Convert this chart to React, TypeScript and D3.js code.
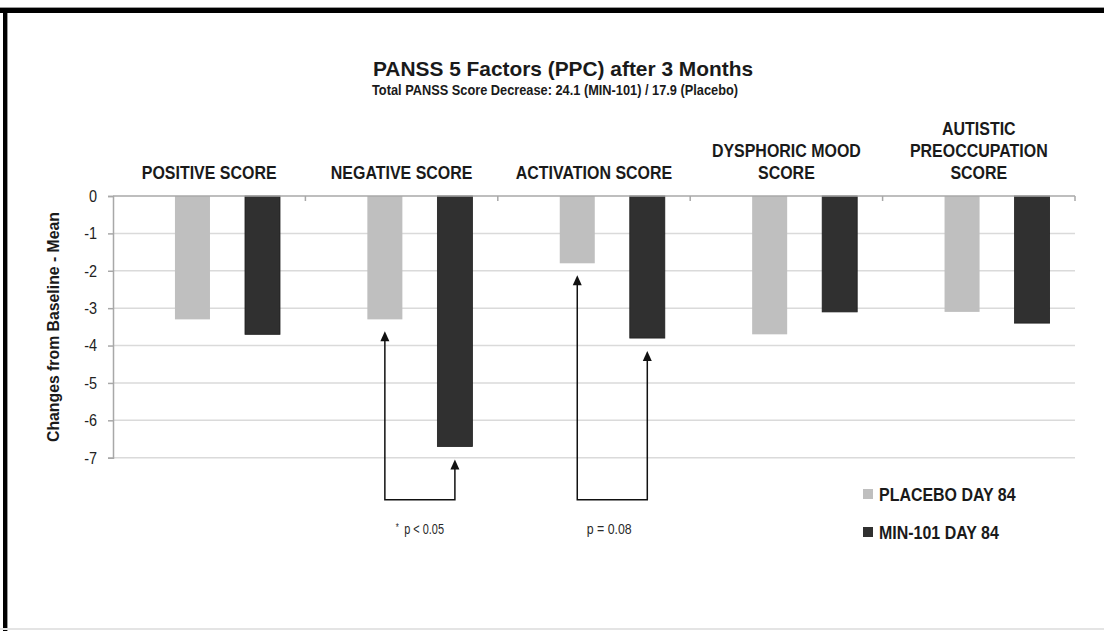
import React, { useEffect, useRef } from "react";
import * as d3 from "d3";

// values
const categories = [
  "POSITIVE SCORE",
  "NEGATIVE SCORE",
  "ACTIVATION SCORE",
  "DYSPHORIC MOOD SCORE",
  "AUTISTIC PREOCCUPATION SCORE",
];
const categoryLines = [
  ["POSITIVE SCORE"],
  ["NEGATIVE SCORE"],
  ["ACTIVATION SCORE"],
  ["DYSPHORIC MOOD", "SCORE"],
  ["AUTISTIC", "PREOCCUPATION", "SCORE"],
];
const seriesNames = ["PLACEBO DAY 84", "MIN-101 DAY 84"];
const placebo = [-3.3, -3.3, -1.8, -3.7, -3.1];
const min101 = [-3.7, -6.7, -3.8, -3.1, -3.4];
const yTicks = [0, -1, -2, -3, -4, -5, -6, -7];
const comparisons = [
  { category: "NEGATIVE SCORE", star: "*", label: "p < 0.05" },
  { category: "ACTIVATION SCORE", star: "", label: "p = 0.08" },
];

const W = 1104;
const H = 631;
const SANS = "'Liberation Sans', Arial, sans-serif";
const colors = ["#bfbfbf", "#303030"];

// no narrow font is installed, so squeeze the glyphs horizontally
function condense(sel, k) {
  sel.each(function () {
    const w = this.getComputedTextLength();
    d3.select(this).attr("textLength", w * k).attr("lengthAdjust", "spacingAndGlyphs");
  });
}

function draw(el) {
  const svg = d3.select(el);
  svg.selectAll("*").remove();

  const marginLeft = 113;
  const plotRight = 1075;
  const y = d3.scaleLinear().domain([0, -7]).range([196, 457.7]);
  const x0 = d3.scaleBand().domain(categories).range([marginLeft, plotRight]).padding(0);
  const bw = x0.bandwidth();
  const x1 = d3
    .scaleBand()
    .domain(seriesNames)
    .range([bw * 0.322, bw * 0.868])
    .paddingInner(0.5)
    .paddingOuter(0);

  // frame
  svg.append("rect").attr("width", W).attr("height", H).attr("fill", "#fff");
  svg.append("rect").attr("x", 0).attr("y", 7).attr("width", W).attr("height", 1).attr("fill", "#9a9a9a");
  svg.append("rect").attr("x", 0).attr("y", 8).attr("width", W).attr("height", 5).attr("fill", "#000");
  svg.append("rect").attr("x", 3).attr("y", 8).attr("width", 4).attr("height", H - 8).attr("fill", "#000");
  svg.append("rect").attr("x", 7).attr("y", 13).attr("width", 1).attr("height", H - 13).attr("fill", "#9a9a9a");
  svg.append("rect").attr("x", 0).attr("y", 628).attr("width", W).attr("height", 2).attr("fill", "#e4e4e4");

  // titles
  svg
    .append("text")
    .attr("x", 563)
    .attr("y", 76)
    .attr("text-anchor", "middle")
    .attr("font-family", SANS)
    .attr("font-weight", 700)
    .attr("font-size", 21)
    .attr("fill", "#1a1a1a")
    .attr("textLength", 380)
    .attr("lengthAdjust", "spacingAndGlyphs")
    .text("PANSS 5 Factors (PPC) after 3 Months");
  svg
    .append("text")
    .attr("x", 555)
    .attr("y", 95)
    .attr("text-anchor", "middle")
    .attr("font-family", SANS)
    .attr("font-weight", 700)
    .attr("font-size", 15.5)
    .attr("fill", "#1a1a1a")
    .attr("textLength", 366)
    .attr("lengthAdjust", "spacingAndGlyphs")
    .text("Total PANSS Score Decrease: 24.1 (MIN-101) / 17.9 (Placebo)");

  // gridlines
  svg
    .append("g")
    .selectAll("line")
    .data(yTicks.filter((d) => d !== 0))
    .join("line")
    .attr("x1", marginLeft)
    .attr("x2", plotRight)
    .attr("y1", (d) => y(d))
    .attr("y2", (d) => y(d))
    .attr("stroke", "#dadada")
    .attr("stroke-width", 1.5);

  // y axis
  svg
    .append("g")
    .attr("transform", `translate(${marginLeft},0)`)
    .call(d3.axisLeft(y).tickValues(yTicks).tickSize(5).tickFormat((d) => String(d)))
    .call((g) => g.select(".domain").attr("stroke", "#a8a8a8").attr("stroke-width", 1.5))
    .call((g) => g.selectAll(".tick line").attr("stroke", "#a8a8a8").attr("stroke-width", 1.5))
    .call((g) =>
      g
        .selectAll(".tick text")
        .attr("x", -16)
        .attr("font-family", SANS)
        .attr("font-size", 17)
        .attr("fill", "#222")
        .call(condense, 0.85)
    );

  svg
    .append("text")
    .attr("transform", `translate(53,327) rotate(-90)`)
    .attr("text-anchor", "middle")
    .attr("dominant-baseline", "central")
    .attr("font-family", SANS)
    .attr("font-weight", 700)
    .attr("font-size", 16.5)
    .attr("fill", "#1a1a1a")
    .attr("textLength", 230)
    .attr("lengthAdjust", "spacingAndGlyphs")
    .text("Changes from Baseline - Mean");

  // bars
  const rows = categories.map((c, i) => ({ c, values: [placebo[i], min101[i]] }));
  svg
    .append("g")
    .selectAll("g")
    .data(rows)
    .join("g")
    .attr("transform", (d) => `translate(${x0(d.c)},0)`)
    .selectAll("rect")
    .data((d) => d.values.map((v, j) => ({ key: seriesNames[j], v, j })))
    .join("rect")
    .attr("x", (d) => x1(d.key))
    .attr("y", y(0))
    .attr("width", x1.bandwidth())
    .attr("height", (d) => y(d.v) - y(0))
    .attr("fill", (d) => colors[d.j])
    .attr("stroke", (d) => (d.j === 1 ? "#1e1e1e" : "none"))
    .attr("stroke-width", 0.8);

  // zero line (category axis) with ticks going down
  svg
    .append("line")
    .attr("x1", marginLeft)
    .attr("x2", plotRight)
    .attr("y1", y(0))
    .attr("y2", y(0))
    .attr("stroke", "#a8a8a8")
    .attr("stroke-width", 1.5);
  svg
    .append("g")
    .selectAll("line")
    .data(categories.slice(1).map((c) => x0(c)).concat([plotRight]))
    .join("line")
    .attr("x1", (d) => d)
    .attr("x2", (d) => d)
    .attr("y1", y(0))
    .attr("y2", y(0) + 5)
    .attr("stroke", "#a8a8a8")
    .attr("stroke-width", 1.5);

  // category labels, one text per line
  const lineData = categories.flatMap((c, i) =>
    categoryLines[i].map((t, k, arr) => ({ c, t, row: arr.length - 1 - k }))
  );
  svg
    .append("g")
    .selectAll("text")
    .data(lineData)
    .join("text")
    .attr("x", (d) => x0(d.c) + bw / 2)
    .attr("y", (d) => 179 - d.row * 22)
    .attr("text-anchor", "middle")
    .attr("font-family", SANS)
    .attr("font-weight", 700)
    .attr("font-size", 19)
    .attr("fill", "#1a1a1a")
    .text((d) => d.t)
    .call(condense, 0.84);

  // significance brackets
  const bracketY = y(-7) + 42;
  const brackets = svg.append("g");
  comparisons.forEach((cmp) => {
    const i = categories.indexOf(cmp.category);
    const xa = x0(cmp.category) + x1(seriesNames[0]) + x1.bandwidth() / 2;
    const xb = x0(cmp.category) + x1(seriesNames[1]) + x1.bandwidth() / 2;
    const ta = y(placebo[i]) + 12;
    const tb = y(min101[i]) + 13;
    brackets
      .append("path")
      .attr("d", `M${xa},${ta + 8}V${bracketY}H${xb}V${tb + 8}`)
      .attr("fill", "none")
      .attr("stroke", "#111")
      .attr("stroke-width", 1.5);
    [
      [xa, ta],
      [xb, tb],
    ].forEach(([ax, ay]) => {
      brackets
        .append("path")
        .attr("d", `M${ax},${ay}L${ax - 4.5},${ay + 10}L${ax + 4.5},${ay + 10}Z`)
        .attr("fill", "#111");
    });
    const t = brackets
      .append("text")
      .attr("x", (xa + xb) / 2 + (cmp.star ? 0 : -3))
      .attr("y", bracketY + 34)
      .attr("text-anchor", "middle")
      .attr("font-family", SANS)
      .attr("font-size", 14)
      .attr("fill", "#2a2a2a");
    if (cmp.star) {
      t.append("tspan").attr("font-size", 10).attr("dy", -3).text(cmp.star);
      t.append("tspan").attr("dy", 3).attr("dx", 7).text(cmp.label);
    } else {
      t.text(cmp.label);
    }
    t.call(condense, 0.88);
  });

  // legend
  const legend = svg
    .append("g")
    .selectAll("g")
    .data(seriesNames)
    .join("g")
    .attr("transform", (d, i) => `translate(863,${494 + i * 38})`);
  legend
    .append("rect")
    .attr("y", -5)
    .attr("width", 10)
    .attr("height", 10)
    .attr("fill", (d, i) => colors[i]);
  legend
    .append("text")
    .attr("x", 16)
    .attr("dy", "0.36em")
    .attr("font-family", SANS)
    .attr("font-weight", 700)
    .attr("font-size", 19)
    .attr("fill", "#1a1a1a")
    .text((d) => d)
    .call(condense, 0.84);
}

export default function App() {
  const ref = useRef(null);
  useEffect(() => {
    draw(ref.current);
  }, []);
  return (
    <svg
      ref={ref}
      width={W}
      height={H}
      viewBox={`0 0 ${W} ${H}`}
      style={{ position: "absolute", left: 0, top: 0, display: "block" }}
    />
  );
}
